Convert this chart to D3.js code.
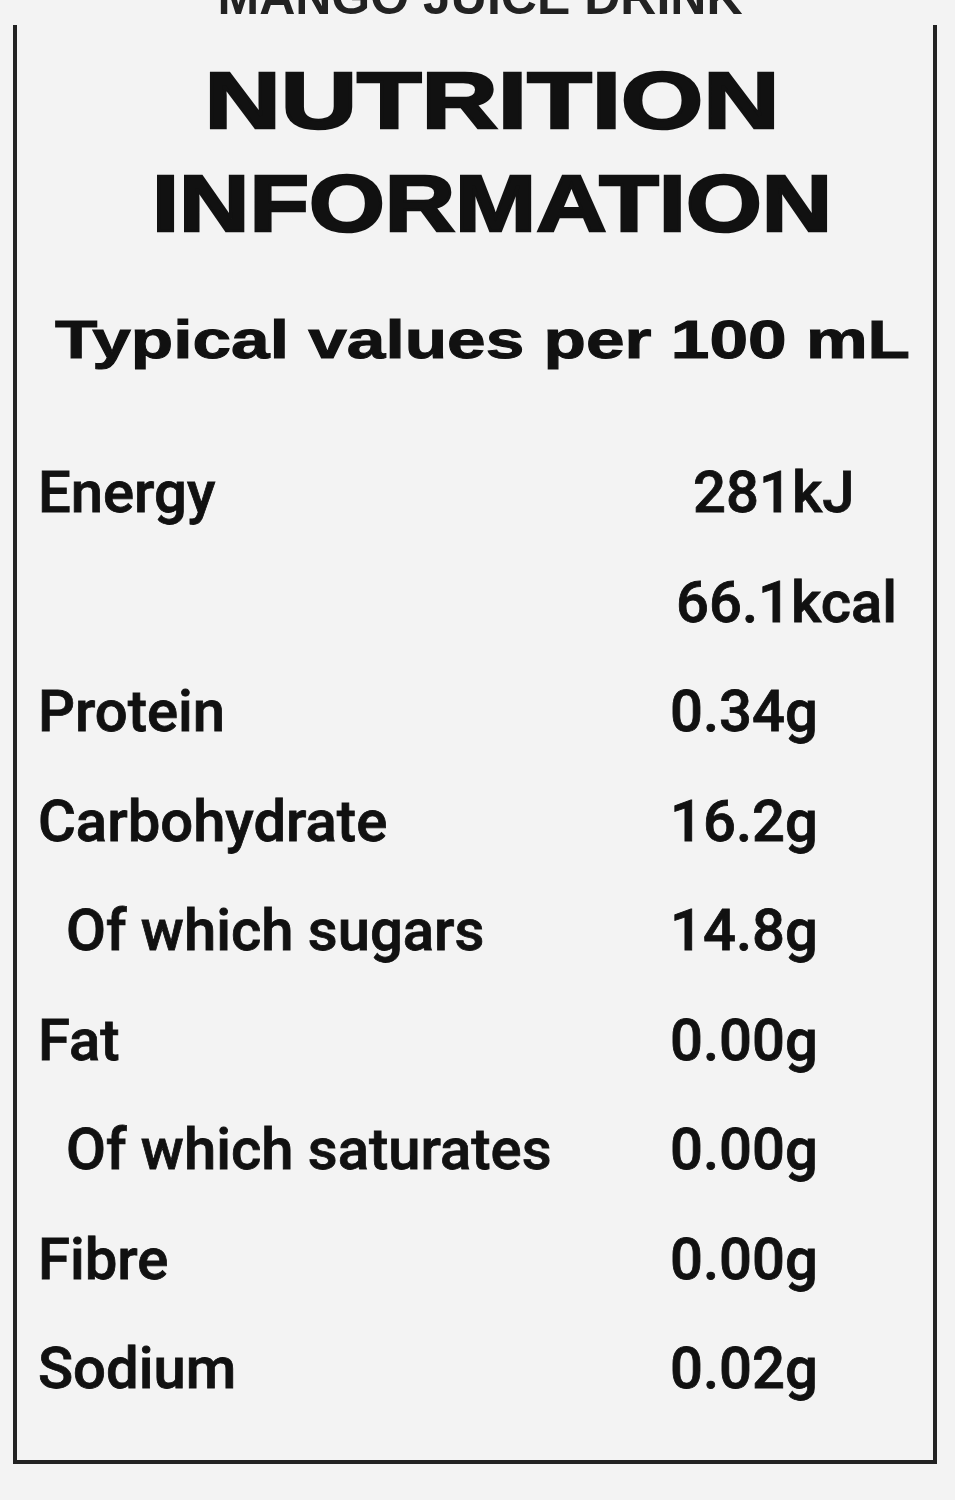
<!DOCTYPE html>
<html><head><meta charset="utf-8">
<script src="https://cdn.jsdelivr.net/npm/d3@7"></script>
<style>body{margin:0;background:#f3f3f3}</style></head>
<body><svg id="c" width="955" height="1500"></svg>
<script>
const titleLines = ["NUTRITION", "INFORMATION"];
const subtitle = "Typical values per 100 mL";
const topText = "MANGO JUICE DRINK";
const labels = ["Energy", "", "Protein", "Carbohydrate", "Of which sugars", "Fat", "Of which saturates", "Fibre", "Sodium"];
const values = ["281kJ", "66.1kcal", "0.34g", "16.2g", "14.8g", "0.00g", "0.00g", "0.00g", "0.02g"];
const indented = [false, false, false, false, true, false, true, false, false];

const svg = d3.select("#c");
svg.append("rect").attr("width",955).attr("height",1500).attr("fill","#f3f3f3");
svg.append("text").attr("x",480).attr("y",14).attr("text-anchor","middle")
  .attr("font-family","Liberation Sans").attr("font-weight","bold").attr("font-size",50)
  .attr("fill","#222").text(topText);
svg.append("path").attr("d","M15,25 L15,1462 L935,1462 L935,25").attr("fill","none")
  .attr("stroke","#222").attr("stroke-width",4);

const tw = [575, 680];
titleLines.forEach((t,i)=>{
  svg.append("text").attr("x",492).attr("y",128+i*103).attr("text-anchor","middle")
    .attr("font-family","Liberation Sans").attr("font-weight","bold").attr("font-size",80)
    .attr("textLength",tw[i]).attr("lengthAdjust","spacingAndGlyphs")
    .attr("stroke","#111").attr("stroke-width",2.5)
    .attr("fill","#111").text(t);
});
svg.append("text").attr("x",55).attr("y",358)
  .attr("font-family","Liberation Sans").attr("font-weight","bold").attr("font-size",54)
  .attr("textLength",855).attr("lengthAdjust","spacingAndGlyphs")
  .attr("stroke","#111").attr("stroke-width",1)
  .attr("fill","#111").text(subtitle);

const y = d3.scalePoint().domain(d3.range(labels.length)).range([512,1388]);
const g = svg.append("g").attr("font-family","Roboto").attr("font-weight",500).attr("font-size",58)
  .attr("fill","#111").attr("stroke","#111").attr("stroke-width",0.8);
g.selectAll("text.l").data(labels).join("text").attr("class","l")
  .attr("x",(d,i)=>indented[i]?66:38).attr("y",(d,i)=>y(i)).text(d=>d);
g.selectAll("text.v").data(values).join("text").attr("class","v")
  .attr("x",(d,i)=>i===0?693:(i===1?676:670)).attr("y",(d,i)=>y(i)).text(d=>d);
</script></body></html>
